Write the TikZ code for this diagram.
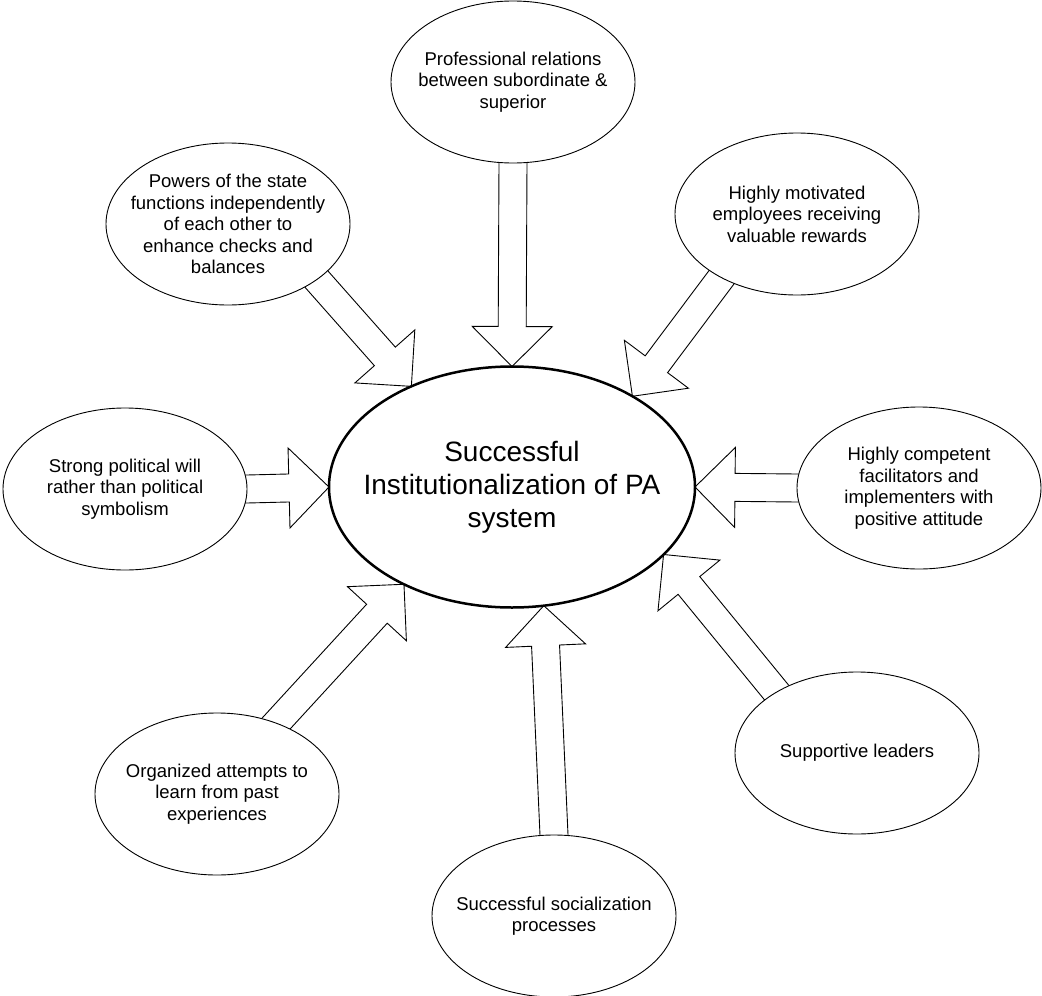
\documentclass[tikz,border=0pt]{standalone}
\usepackage{fontspec}
\setmainfont{Liberation Sans}
\usetikzlibrary{shapes.geometric,calc}
\pgfdeclarelayer{bg}
\pgfsetlayers{bg,main}
\newcommand\blockarr[2]{%
  \coordinate (ba-s) at ($(#1)!-12pt!(#2)$);
  \coordinate (ba-b) at ($(#2)!40pt!(#1)$);
  \draw[barrow] ($(ba-s)!14pt!90:(#2)$) -- ($(ba-b)!14pt!90:(#2)$) -- ($(ba-b)!40pt!90:(#2)$) -- (#2) -- ($(ba-b)!40pt!-90:(#2)$) -- ($(ba-b)!14pt!-90:(#2)$) -- ($(ba-s)!14pt!-90:(#2)$) -- cycle;
}
\begin{document}
\begin{tikzpicture}[x=1pt,y=-1pt,
  ell/.style={ellipse, draw, fill=white, line width=0.9pt, minimum width=244pt, minimum height=162pt, inner sep=0pt, outer sep=0pt},
  mainell/.style={ellipse, draw, fill=white, line width=2.5pt, minimum width=366pt, minimum height=241pt, inner sep=0pt, outer sep=0pt},
  txt/.style={align=center, inner sep=0pt, font=\fontsize{18.5}{21.5}\selectfont},
  maintxt/.style={align=center, inner sep=0pt, font=\fontsize{28}{33}\selectfont},
  barrow/.style={draw, fill=white, line width=0.9pt, line join=miter}]
\useasboundingbox (0,0) rectangle (1042,996);

\node[mainell] (c) at (512,487) {};
\node[maintxt] (ct) at (c) {Successful\\Institutionalization of PA\\system};

\node[ell] (t) at (513,82) {};
\node[txt] (tt) at (t) {Professional relations\\between subordinate \&\\superior};

\node[ell] (tl) at (228,224) {};
\node[txt] (tlt) at (tl) {Powers of the state\\functions independently\\of each other to\\enhance checks and\\balances};

\node[ell] (tr) at (797,214) {};
\node[txt] (trt) at (tr) {Highly motivated\\employees receiving\\valuable rewards};

\node[ell] (l) at (125,489) {};
\node[txt] (lt) at (l) {Strong political will\\rather than political\\symbolism};

\node[ell] (r) at (919,488) {};
\node[txt] (rt) at (r) {Highly competent\\facilitators and\\implementers with\\positive attitude};

\node[ell] (bl) at (217,794) {};
\node[txt] (blt) at (bl) {Organized attempts to\\learn from past\\experiences};

\node[ell] (b) at (554,916) {};
\node[txt] (bt) at (b) {Successful socialization\\processes};

\node[ell] (br) at (857,753) {};
\node[txt] (brt) at (br) {Supportive leaders};

\begin{pgfonlayer}{bg}
\blockarr{t.-90}{c.90}
\blockarr{tl.-32}{c.135.5}
\blockarr{tr.-140.3}{c.37.2}
\blockarr{l.0}{c.180}
\blockarr{r.180}{c.0}
\blockarr{bl.50}{c.-138}
\blockarr{b.90}{c.-75.7}
\blockarr{br.143.5}{c.-24.6}
\end{pgfonlayer}
\end{tikzpicture}
\end{document}
